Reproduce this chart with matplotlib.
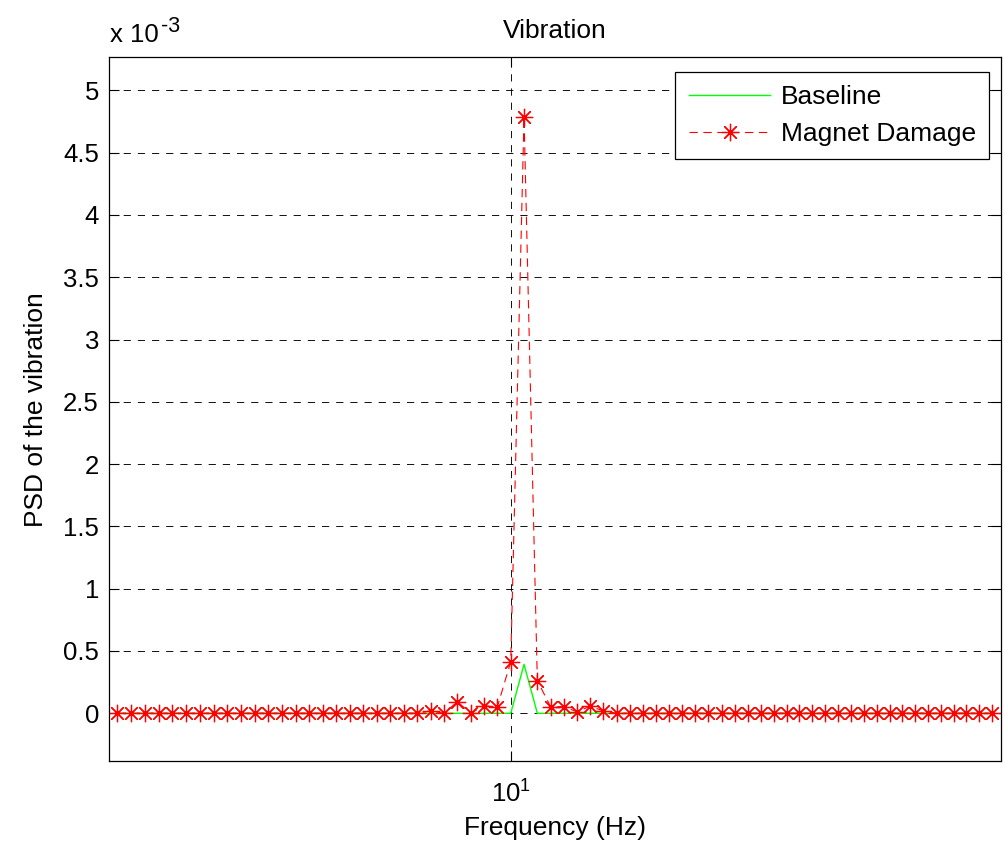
import numpy as np
import matplotlib
matplotlib.use('Agg')
import matplotlib.pyplot as plt
from matplotlib.ticker import FixedLocator, NullLocator, FuncFormatter

plt.rcParams['font.family'] = ['Liberation Sans', 'DejaVu Sans']
plt.rcParams['mathtext.fontset'] = 'custom'
plt.rcParams['mathtext.rm'] = 'Liberation Sans'
plt.rcParams['mathtext.it'] = 'Liberation Sans:italic'
plt.rcParams['lines.scale_dashes'] = False

# Frequency bins (Hz): uniform PSD grid, 67 bins from 741/77 to 807/77 Hz
freq_hz = np.linspace(741 / 77, 807 / 77, 67)

# PSD values
baseline = [0.0] * 30 + [0.393e-3] + [0.0] * 36
magnet_damage = ([0.0] * 23 +
                 [0.020e-3, 0.0, 0.093e-3, 0.0, 0.061e-3, 0.053e-3,
                  0.414e-3, 4.788e-3, 0.262e-3, 0.053e-3, 0.053e-3,
                  0.012e-3, 0.057e-3, 0.018e-3] +
                 [0.0] * 30)

y_ticks = [0, 0.5e-3, 1e-3, 1.5e-3, 2e-3, 2.5e-3, 3e-3, 3.5e-3, 4e-3, 4.5e-3, 5e-3]
x_ticks = [10]

FS = 19
TFS = 18.5

fig = plt.figure(figsize=(10.05, 8.44), dpi=100)
ax = fig.add_axes([0.10816, 0.09834, 0.88786, 0.83377])

ax.plot(freq_hz, baseline, color=(0, 1, 0), lw=1.0, label='Baseline')
ax.plot(freq_hz, magnet_damage, color=(1, 0, 0), ls=(0, (6, 4)), lw=0.8,
        marker=(8, 2, 0), ms=12.5, mew=0.9, label='Magnet Damage')

ax.set_xscale('log')
ax.set_xlim(9.6153, 10.4900)
ax.set_ylim(-0.383e-3, 5.265e-3)

ax.xaxis.set_major_locator(FixedLocator(x_ticks))
ax.xaxis.set_minor_locator(NullLocator())
ax.xaxis.set_major_formatter(FuncFormatter(lambda v, p: r'$10^{1}$'))
ax.yaxis.set_major_locator(FixedLocator(y_ticks))
ax.yaxis.set_minor_locator(NullLocator())
ax.yaxis.set_major_formatter(FuncFormatter(lambda v, p: f'{v * 1e3:g}'))

ax.grid(True, color='k', ls=(0, (5.2, 5)), lw=0.65)
ax.set_axisbelow(True)
ax.tick_params(direction='in', length=7, width=0.8, top=True, right=True,
               labelsize=TFS)
ax.tick_params(axis='y', pad=7)
ax.tick_params(axis='x', pad=14)
for s in ax.spines.values():
    s.set_linewidth(0.9)

ax.set_title('Vibration', fontsize=FS, pad=14)
ax.set_xlabel('Frequency (Hz)', fontsize=FS, labelpad=6)
ax.set_ylabel('PSD of the vibration', fontsize=FS, labelpad=11)

# axis multiplier
fig.text(110 / 1005, 1 - 41.7 / 844, 'x 10', fontsize=TFS, va='baseline')
fig.text(161 / 1005, 1 - 31.7 / 844, '-3', fontsize=15.5, va='baseline')

leg = ax.legend(loc='upper right', bbox_to_anchor=(0.9869, 0.9795), borderaxespad=0,
                fancybox=False, edgecolor='k', framealpha=1, fontsize=FS,
                handlelength=3.1, handletextpad=0.4, numpoints=1, borderpad=0.5,
                labelspacing=0.5)
leg.get_frame().set_linewidth(0.9)

fig.savefig('out.png', dpi=100)
